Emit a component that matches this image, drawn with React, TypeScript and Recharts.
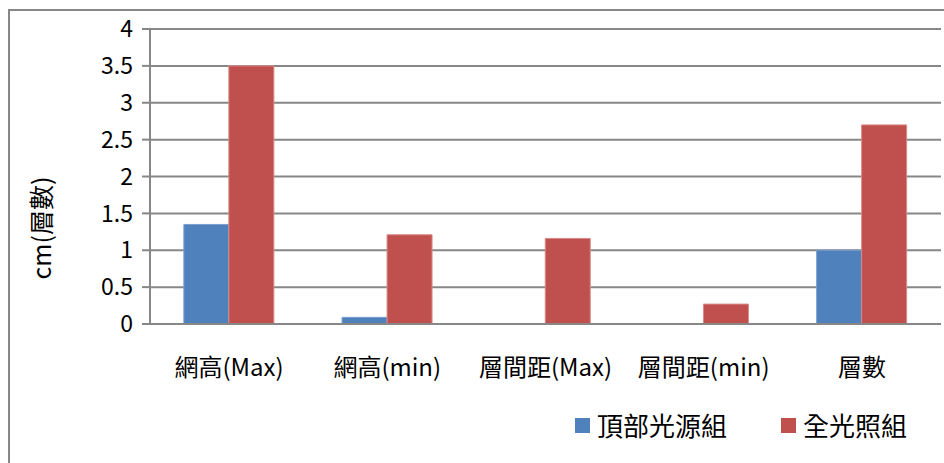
import { BarChart, Bar, XAxis, YAxis, CartesianGrid } from "recharts";

// 各項目
const categories = ["網高(Max)", "網高(min)", "層間距(Max)", "層間距(min)", "層數"];
// 頂部光源組
const topLight = [1.35, 0.09, 0, 0, 1];
// 全光照組
const fullLight = [3.5, 1.21, 1.16, 0.27, 2.7];
const yTicks = [0, 0.5, 1, 1.5, 2, 2.5, 3, 3.5, 4];

const seriesNames = ["頂部光源組", "全光照組"];
const seriesColors = ["#4F81BD", "#C0504D"];
const seriesStrokes = ["#7a9fd0", "#d98a88"];

const data = categories.map((name, i) => ({
  name,
  top: topLight[i],
  full: fullLight[i],
}));

const FONT = "'Noto Sans CJK TC', 'Noto Sans', sans-serif";
const LINE = "#878787";

// x軸ラベル
const CategoryTick = ({ x, y, payload }: any) => (
  <text
    x={x}
    y={y + 52}
    textAnchor="middle"
    fontSize={24}
    fontFamily={FONT}
    fill="#000">
    {payload.value}
  </text>
);

const AxisTitle = () => (
  <text
    x={40}
    y={228}
    transform="rotate(-90, 40, 228)"
    textAnchor="middle"
    dominantBaseline="central"
    fontSize={25}
    fontFamily={FONT}
    fill="#000">
    cm(層數)
  </text>
);

export default function App() {
  return (
    <div
      style={{
        position: "absolute",
        left: 0,
        top: 0,
        width: 944,
        height: 463,
        overflow: "hidden",
        background: "#fff",
      }}>
      {/* 外枠 */}
      <div
        style={{
          position: "absolute",
          left: 8,
          top: 9,
          width: 1000,
          height: 600,
          borderTop: `2px solid ${LINE}`,
          borderLeft: `2px solid ${LINE}`,
        }}
      />
      <BarChart
        width={944}
        height={463}
        data={data}
        margin={{ top: 29, right: 3, bottom: 99, left: 50 }}
        barCategoryGap="21.4%"
        barGap={0}>
        <CartesianGrid
          horizontal={true}
          vertical={false}
          stroke={LINE}
          strokeWidth={2}
        />
        <XAxis
          dataKey="name"
          height={40}
          tickLine={false}
          tickSize={0}
          tickMargin={0}
          interval={0}
          axisLine={{ stroke: LINE, strokeWidth: 2 }}
          tick={<CategoryTick />}
        />
        <YAxis
          width={100}
          domain={[0, 4]}
          ticks={yTicks}
          interval={0}
          tickSize={8}
          tickMargin={9}
          axisLine={{ stroke: LINE, strokeWidth: 2 }}
          tickLine={{ stroke: LINE, strokeWidth: 2 }}
          tick={{ fontSize: 23, fill: "#000", fontFamily: FONT }}
          label={<AxisTitle />}
        />
        <Bar
          dataKey="top"
          name={seriesNames[0]}
          fill={seriesColors[0]}
          stroke={seriesStrokes[0]}
          strokeWidth={1}
          isAnimationActive={false}
        />
        <Bar
          dataKey="full"
          name={seriesNames[1]}
          fill={seriesColors[1]}
          stroke={seriesStrokes[1]}
          strokeWidth={1}
          isAnimationActive={false}
        />
      </BarChart>
      {/* 凡例 */}
      <div
        style={{
          position: "absolute",
          left: 575,
          top: 409,
          display: "flex",
          alignItems: "center",
          fontFamily: FONT,
        }}>
        {seriesNames.map((name, i) => (
          <div
            key={`lg-${i}`}
            style={{
              display: "flex",
              alignItems: "center",
              marginRight: i === 0 ? 54 : 0,
            }}>
            <span
              style={{
                width: 15,
                height: 15,
                background: seriesColors[i],
                display: "inline-block",
                marginRight: 7,
              }}
            />
            <span style={{ fontSize: 26, color: "#000", lineHeight: "32px" }}>
              {name}
            </span>
          </div>
        ))}
      </div>
    </div>
  );
}
